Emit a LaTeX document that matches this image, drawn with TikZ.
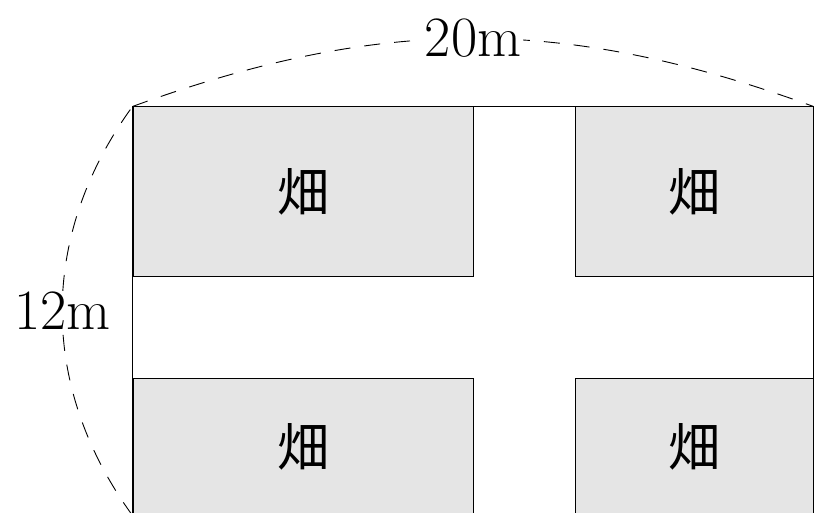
\documentclass[tikz,border=0pt]{standalone}
\usepackage{fontspec}
\newfontfamily\cjk{Noto Sans CJK JP}
\begin{document}
\begin{tikzpicture}[x=1pt,y=1pt,
  field/.style={draw=black, fill=gray!20, line width=1pt, inner sep=0pt,
    font=\cjk\fontsize{52}{52}\selectfont},
  edge/.style={draw=black, line width=1pt},
  dim/.style={draw=black, line width=0.9pt, dash pattern=on 16pt off 14pt},
  lbl/.style={fill=white, inner sep=1.5pt, font=\fontsize{57}{57}\selectfont}]
\useasboundingbox (0,0) rectangle (826,513);
\clip (0,0) rectangle (826,513);
\node[field, minimum width=340pt, minimum height=170pt] (tl) at (303,321) {畑};
\node[field, minimum width=238pt, minimum height=170pt] (tr) at (694,321) {畑};
\node[field, minimum width=340pt, minimum height=136pt] (bl) at (303,66) {畑};
\node[field, minimum width=238pt, minimum height=136pt] (br) at (694,66) {畑};
\draw[edge] (bl.south west) -- (tl.north west) -- (tr.north east) -- (br.south east);
\draw[dim] (tl.north west) to[bend left=20] node[lbl] {20m} (tr.north east);
\draw[dim] (bl.south west) to[bend left=36] node[lbl] {12m} (tl.north west);
\end{tikzpicture}
\end{document}
